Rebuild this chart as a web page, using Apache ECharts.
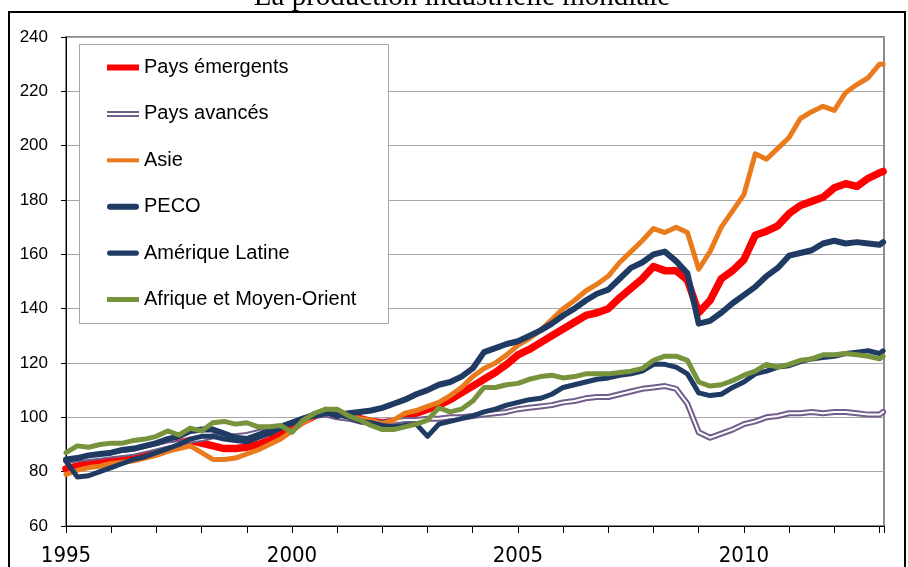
<!DOCTYPE html>
<html>
<head>
<meta charset="utf-8">
<script src="https://cdn.jsdelivr.net/npm/echarts@6/dist/echarts.min.js"></script>
<style>
html,body{margin:0;padding:0;background:#fff}
#chart{width:908px;height:567px}
</style>
</head>
<body>
<div id="chart"></div>
<script>
// trimestres (années décimales)
let dates = [
    1995,1995.25,1995.5,1995.75,1996,1996.25,1996.5,1996.75,1997,1997.25,1997.5,1997.75,
    1998,1998.25,1998.5,1998.75,1999,1999.25,1999.5,1999.75,2000,2000.25,2000.5,2000.75,
    2001,2001.25,2001.5,2001.75,2002,2002.25,2002.5,2002.75,2003,2003.25,2003.5,2003.75,
    2004,2004.25,2004.5,2004.75,2005,2005.25,2005.5,2005.75,2006,2006.25,2006.5,2006.75,
    2007,2007.25,2007.5,2007.75,2008,2008.25,2008.5,2008.75,2009,2009.25,2009.5,2009.75,
    2010,2010.25,2010.5,2010.75,2011,2011.25,2011.5,2011.75,2012,2012.25,2012.5,2012.75,
    2013,2013.08
]
let paysEmergents = [
    81,82,83,83.5,84,85,86,86.5,87.5,89,90.5,91.5,
    90.5,89.5,88.5,88.5,89,90,91.5,93.5,96,98.5,100.5,102.5,
    101.5,100.5,99.5,98.5,98,98.5,100,101.5,103,104.5,106.5,109,
    111.5,114,116.5,119.5,123,125,127.5,130,132.5,135,137.5,138.5,
    140,144,147.5,151,155.5,154,154,150.5,138.5,143,151,154,
    158,167,168.5,170.5,175,178,179.5,181,184.5,186,185,188,
    190,190.5
]
let paysAvances = [
    84,84.5,85,85.5,86,86.5,87,88,89,90,90.5,91.5,
    92,93,93,93,93.5,94.5,95.5,96.5,98,99.5,100.5,101,
    100,99.5,98.5,98,98,98.5,99,99,99.5,99.5,100,100,
    100.5,101,101.5,102,103,103.5,104,104.5,105.5,106,107,107.5,
    107.5,108.5,109.5,110.5,111,111.5,110.5,105,94.5,92.5,94,95.5,
    97.5,98.5,100,100.5,101.5,101.5,102,101.5,102,102,101.5,101,
    101,102
]
let asie = [
    79,80.5,81.5,82,83,83.5,84,85,86,87.5,88.5,89.5,
    87,84.5,84.5,85,86.5,88,90,92,95,98,100.5,103,
    102.5,101,99.5,99,97.5,99,101.5,102.5,104,105.5,108,111,
    115,118,120,123,126.5,129,132,136,140,143,146.5,149,
    152,157,161,165,169.5,168,170,168,154.5,161,170,176,
    182,197,195,199,203,210,212.5,214.5,213,219.5,222.5,225,
    230,230
]
let peco = [
    84.5,85,86,86.5,87,88,88.5,89.5,90.5,92,93,95,
    95.5,95.5,94,92.5,92,93.5,95,96.5,98,99.5,101,102,
    100.5,101.5,102,102.5,103.5,105,106.5,108.5,110,112,113,115,
    118,124,125.5,127,128,130,132,134.5,137.5,140,143,145.5,
    147,151,155,157,160,161,157.5,153,134.5,135.5,138.5,142,
    145,148,152,155,159.5,160.5,161.5,164,165,164,164.5,164,
    163.5,164.5
]
let ameriqueLatine = [
    84,78,78.5,80,81.5,83,84.5,85.5,87,88.5,90,92,
    93,93,92,91.5,91,92.5,94,96,98,99.5,100.5,101.5,
    101,100,98.5,98,97,96.5,97,97.5,93,97.5,98.5,99.5,
    100.5,102,103,104.5,105.5,106.5,107,108.5,111,112,113,114,
    114.5,115.5,116,117,119.5,119.5,118.5,116,109,108,108.5,111,
    113,116,117,118.5,119,120.5,121.5,122,122.5,123.5,124,124.5,
    123.5,124.5
]
let afriqueMO = [
    87,89.5,89,90,90.5,90.5,91.5,92,93,95,93.5,96,
    95,98,98.5,97.5,98,96.5,96.5,97,94.5,99,101.5,103,
    103,100.5,99,97,95.5,95.5,96.5,97.5,99,103.5,102,103,
    106,111,111,112,112.5,114,115,115.5,114.5,115,116,116,
    116,116.5,117,118,121,122.5,122.5,121,113,111.5,112,113.5,
    115.5,117,119.5,118.5,119.5,121,121.5,123,123,123.5,123,122.5,
    121.5,122.5
]
let yTicks = [60,80,100,120,140,160,180,200,220,240]
let xLabels = [1995,2000,2005,2010]

const NAVY = "#1f3b63"
const FONT = "'Liberation Sans', Arial, sans-serif"

let chart = echarts.init(document.getElementById("chart"))

function pts(arr){
    return dates.map((d,i)=>[d,arr[i]])
}
function line(name,arr,color,width,z){
    return {
        name:name,type:"line",data:pts(arr),symbol:"none",color:color,z:z||2,
        lineStyle:{color:color,width:width,cap:"round",join:"round"},
        emphasis:{disabled:true},silent:true
    }
}

let option = {
    animation:false,
    backgroundColor:"#fff",
    grid:{left:66,top:37,right:24,bottom:41,show:true,borderColor:"#8c8c8c",borderWidth:2},
    xAxis:{
        type:"value",min:1995,max:2013.1,interval:1,
        axisLine:{lineStyle:{color:"#000",width:1}},
        axisTick:{show:true,length:7,lineStyle:{color:"#000"}},
        splitLine:{show:false},
        axisLabel:{
            margin:19,color:"#000",fontSize:22,
            fontFamily:"'DejaVu Sans Condensed','Liberation Sans',sans-serif",
            formatter:v=>xLabels.indexOf(v)>=0?String(v):""
        }
    },
    yAxis:{
        type:"value",min:yTicks[0],max:yTicks[yTicks.length-1],interval:20,
        axisLine:{show:true,lineStyle:{color:"#000",width:1}},
        axisTick:{show:true,length:5,lineStyle:{color:"#000"}},
        splitLine:{lineStyle:{color:"#a6a6a6",width:1}},
        axisLabel:{margin:18,color:"#000",fontSize:17,fontFamily:FONT}
    },
    legend:{
        orient:"vertical",left:107,top:57.5,padding:0,itemGap:26.4,
        itemWidth:32,itemHeight:6,selectedMode:false,z:20,
        textStyle:{fontSize:20,color:"#000",fontFamily:FONT},
        itemStyle:{borderWidth:0},
        data:[
            {name:"Pays émergents",icon:"rect",itemStyle:{color:"#ff0000"}},
            {name:"Pays avancés",icon:"path://M0,0H32V2H0ZM0,4H32V6H0Z",itemStyle:{color:"#725e8c"}},
            {name:"Asie",icon:"path://M0,1H32V5H0Z",itemStyle:{color:"#e97b1c"}},
            {name:"PECO",icon:"path://M3,0H29A3,3 0 0 1 29,6H3A3,3 0 0 1 3,0Z",itemStyle:{color:NAVY}},
            {name:"Amérique Latine",icon:"path://M3,0.5H29A2.5,2.5 0 0 1 29,5.5H3A2.5,2.5 0 0 1 3,0.5Z",itemStyle:{color:NAVY}},
            {name:"Afrique et Moyen-Orient",icon:"path://M0,0.5H32V5.5H0Z",itemStyle:{color:"#77933c"}}
        ]
    },
    graphic:[
        {type:"rect",z:10,shape:{x:79.5,y:44.5,width:309,height:279},
            style:{fill:"#fff",stroke:"#a6a6a6",lineWidth:1}},
        {type:"text",z:1,x:462,y:12,
            style:{text:"La production industrielle mondiale",fill:"#000",
                font:"29px 'Liberation Serif', 'Times New Roman', serif",
                textAlign:"center",textVerticalAlign:"bottom"}},
        {type:"rect",z:2,silent:true,shape:{x:9,y:12,width:896,height:620},
            style:{fill:"none",stroke:"#000",lineWidth:2}}
    ],
    series:[
        line("Pays émergents",paysEmergents,"#ff0000",7.5),
        line("Pays avancés",paysAvances,"#725e8c",6),
        line("_avances_centre",paysAvances,"#ffffff",2,3),
        line("Asie",asie,"#e97b1c",5,4),
        line("PECO",peco,NAVY,6,5),
        line("Amérique Latine",ameriqueLatine,NAVY,5,6),
        line("Afrique et Moyen-Orient",afriqueMO,"#77933c",5,7)
    ]
}
chart.setOption(option)
</script>
</body>
</html>
